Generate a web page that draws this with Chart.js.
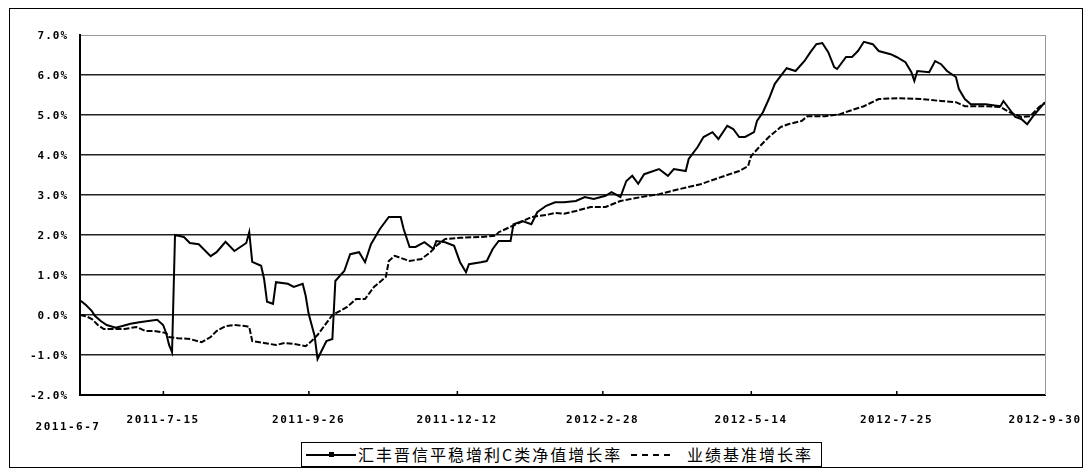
<!DOCTYPE html>
<html>
<head>
<meta charset="utf-8">
<script src="https://cdn.jsdelivr.net/npm/chart.js@4/dist/chart.umd.min.js"></script>
<style>
  body { margin: 0; background: #fff; }
  #wrap { position: relative; width: 1088px; height: 470px; }
  #frame { position: absolute; left: 9px; top: 8px; width: 1074px; height: 460px; box-sizing: border-box; border: 1px solid #000; pointer-events: none; }
  #legend { position: absolute; left: 301px; top: 442px; width: 521px; height: 25px; box-sizing: border-box; border: 1px solid #000;
            font-family: "Noto Sans CJK SC", sans-serif; font-size: 16px; letter-spacing: 2px; line-height: 22px; color: #000; white-space: nowrap; background: #fff; }
  #legend span { position: absolute; top: 0; }
  .solid { position: absolute; top: 11px; height: 0; border-top: 2px solid #000; }
  .dash { position: absolute; top: 11px; height: 0; border-top: 2px dashed #000; }
  .mark { position: absolute; top: 9px; width: 5px; height: 5px; background: #000; }
</style>
</head>
<body>
<div id="wrap">
  <canvas id="chart" width="1088" height="470"></canvas>
  <div id="frame"></div>
  <div id="legend">
    <div class="solid" style="left:4px;width:50px"></div>
    <div class="mark" style="left:27px"></div>
    <span style="left:56px">汇丰晋信平稳增利C类净值增长率</span>
    <div class="dash" style="left:329px;width:39px"></div>
    <span style="left:385px">业绩基准增长率</span>
  </div>
</div>
<script>
// 横轴刻度（交易日序号）
const tickIdx = [0, 28, 77, 127, 176, 226, 275, 325];
const tickLabels = ['2011-6-7', '2011-7-15', '2011-9-26', '2011-12-12', '2012-2-28', '2012-5-14', '2012-7-25', '2012-9-30'];
const yTicks = [-2, -1, 0, 1, 2, 3, 4, 5, 6, 7];

// 汇丰晋信平稳增利C类净值增长率 (%)
const fundX = [0, 2, 4, 5, 7, 9, 12, 14, 17, 20, 23, 26, 28, 29, 30, 31, 32, 35, 37, 40, 44, 46, 49, 52, 56, 57, 58, 61, 62, 63, 65, 66, 70, 72, 75, 76, 77, 79, 80, 82, 83, 85, 86, 88, 89, 91, 94, 96, 98, 101, 104, 108, 109, 111, 113, 116, 119, 120, 123, 126, 128, 130, 131, 135, 137, 139, 141, 145, 146, 149, 152, 154, 157, 160, 163, 167, 170, 173, 177, 179, 182, 184, 186, 188, 190, 195, 198, 200, 204, 205, 208, 210, 213, 215, 218, 220, 222, 224, 227, 228, 230, 232, 234, 236, 238, 241, 244, 246, 248, 250, 252, 254, 255, 258, 260, 262, 264, 267, 269, 273, 275, 278, 280, 281, 282, 286, 288, 290, 292, 295, 296, 298, 300, 305, 310, 311, 313, 315, 317, 319, 321, 323, 325];
const fundY = [0.37, 0.25, 0.1, -0.02, -0.15, -0.25, -0.32, -0.28, -0.22, -0.18, -0.15, -0.12, -0.25, -0.45, -0.75, -0.93, 2.0, 1.95, 1.8, 1.77, 1.47, 1.57, 1.83, 1.6, 1.8, 2.07, 1.33, 1.23, 0.9, 0.33, 0.28, 0.82, 0.78, 0.7, 0.78, 0.48, 0.03, -0.52, -1.1, -0.8, -0.65, -0.6, 0.85, 1.02, 1.1, 1.52, 1.57, 1.32, 1.77, 2.15, 2.45, 2.45, 2.15, 1.7, 1.7, 1.82, 1.65, 1.85, 1.82, 1.73, 1.32, 1.07, 1.27, 1.32, 1.35, 1.65, 1.85, 1.85, 2.27, 2.35, 2.27, 2.57, 2.73, 2.82, 2.82, 2.85, 2.95, 2.9, 2.98, 3.07, 2.95, 3.35, 3.48, 3.28, 3.52, 3.65, 3.48, 3.65, 3.6, 3.9, 4.2, 4.45, 4.57, 4.4, 4.73, 4.65, 4.45, 4.45, 4.57, 4.85, 5.07, 5.4, 5.78, 5.98, 6.17, 6.1, 6.35, 6.57, 6.77, 6.8, 6.57, 6.2, 6.15, 6.45, 6.45, 6.6, 6.83, 6.77, 6.6, 6.52, 6.45, 6.32, 6.07, 5.85, 6.1, 6.07, 6.35, 6.27, 6.1, 5.95, 5.65, 5.4, 5.27, 5.27, 5.22, 5.35, 5.15, 4.95, 4.9, 4.77, 4.97, 5.15, 5.32];

// 业绩基准增长率 (%)
const benchX = [0, 2, 4, 6, 8, 10, 15, 19, 22, 25, 29, 30, 33, 37, 41, 44, 46, 49, 52, 56, 57, 58, 62, 66, 69, 72, 76, 78, 80, 82, 85, 90, 93, 96, 99, 103, 104, 106, 111, 115, 118, 120, 123, 128, 135, 140, 141, 147, 152, 157, 160, 163, 167, 172, 177, 182, 189, 195, 202, 209, 216, 222, 225, 226, 229, 232, 236, 239, 243, 245, 251, 256, 259, 264, 269, 276, 283, 290, 295, 298, 305, 310, 313, 317, 320, 323, 325];
const benchY = [0.0, -0.03, -0.1, -0.25, -0.35, -0.35, -0.35, -0.3, -0.4, -0.4, -0.45, -0.55, -0.58, -0.6, -0.68, -0.55, -0.4, -0.28, -0.25, -0.28, -0.3, -0.65, -0.7, -0.75, -0.7, -0.72, -0.78, -0.65, -0.5, -0.3, 0.0, 0.2, 0.4, 0.4, 0.7, 0.95, 1.35, 1.48, 1.35, 1.4, 1.57, 1.73, 1.9, 1.93, 1.95, 1.98, 2.07, 2.27, 2.45, 2.5, 2.55, 2.53, 2.6, 2.7, 2.7, 2.85, 2.95, 3.02, 3.15, 3.27, 3.45, 3.6, 3.72, 3.97, 4.22, 4.45, 4.7, 4.78, 4.85, 4.97, 4.97, 5.02, 5.1, 5.22, 5.4, 5.42, 5.4, 5.35, 5.32, 5.22, 5.22, 5.2, 5.07, 4.95, 4.97, 5.2, 5.3];

const labelFont = 'bold 11px "DejaVu Sans Mono", monospace';

// 自绘刻度标签、内侧刻度线和右边框
const axisPainter = {
    id: 'axisPainter',
    afterDraw(chart) {
        const ctx = chart.ctx;
        const xs = chart.scales.x, ys = chart.scales.y, area = chart.chartArea;
        ctx.save();
        ctx.fillStyle = '#000';
        ctx.font = labelFont;
        ctx.letterSpacing = '1px';
        // y labels
        ctx.textAlign = 'right';
        ctx.textBaseline = 'middle';
        yTicks.forEach(v => {
            ctx.fillText(v.toFixed(1) + '%', area.left - 12, ys.getPixelForValue(v) + 1);
        });
        // x labels
        ctx.letterSpacing = '1.5px';
        ctx.textAlign = 'center';
        tickIdx.forEach((t, i) => {
            const px = xs.getPixelForValue(t);
            if (i === 0) {
                ctx.fillText(tickLabels[i], px - 12, area.bottom + 32);
            } else {
                ctx.fillText(tickLabels[i], px, area.bottom + 25);
            }
            if (i > 0 && i < tickIdx.length - 1) {
                ctx.fillRect(px - 0.5, area.bottom - 4, 1.5, 4);
            }
        });
        // right border
        ctx.strokeStyle = '#999';
        ctx.lineWidth = 1;
        ctx.beginPath();
        ctx.moveTo(area.right + 0.5, area.top);
        ctx.lineTo(area.right + 0.5, area.bottom);
        ctx.stroke();
        ctx.restore();
    }
};

const chart = new Chart(document.getElementById('chart'), {
    type: 'line',
    data: {
        datasets: [{
            label: '汇丰晋信平稳增利C类净值增长率',
            data: fundX.map((x, i) => ({ x: x, y: fundY[i] })),
            borderColor: '#000',
            borderWidth: 2,
            pointRadius: 0,
            tension: 0
        }, {
            label: '业绩基准增长率',
            data: benchX.map((x, i) => ({ x: x, y: benchY[i] })),
            borderColor: '#000',
            borderWidth: 2,
            borderDash: [6, 2],
            pointRadius: 0,
            tension: 0
        }]
    },
    options: {
        responsive: false,
        animation: false,
        layout: { padding: { left: 0, top: 35, right: 43, bottom: 0 } },
        plugins: {
            legend: { display: false },
            tooltip: { enabled: false }
        },
        scales: {
            x: {
                type: 'linear',
                min: 0,
                max: 325,
                afterBuildTicks: s => { s.ticks = tickIdx.map(v => ({ value: v })); },
                afterFit: s => { s.height = 75; },
                ticks: { display: false },
                grid: { display: false },
                border: { color: '#000', width: 2 }
            },
            y: {
                min: -2,
                max: 7,
                afterBuildTicks: s => { s.ticks = yTicks.map(v => ({ value: v })); },
                afterFit: s => { s.width = 80; },
                ticks: { display: false },
                grid: {
                    drawTicks: false,
                    color: c => c.tick && c.tick.value === 7 ? '#999' : '#222',
                    lineWidth: c => c.tick && c.tick.value === 7 ? 1 : 1.5
                },
                border: { color: '#000', width: 2 }
            }
        }
    },
    plugins: [axisPainter]
});
</script>
</body>
</html>
